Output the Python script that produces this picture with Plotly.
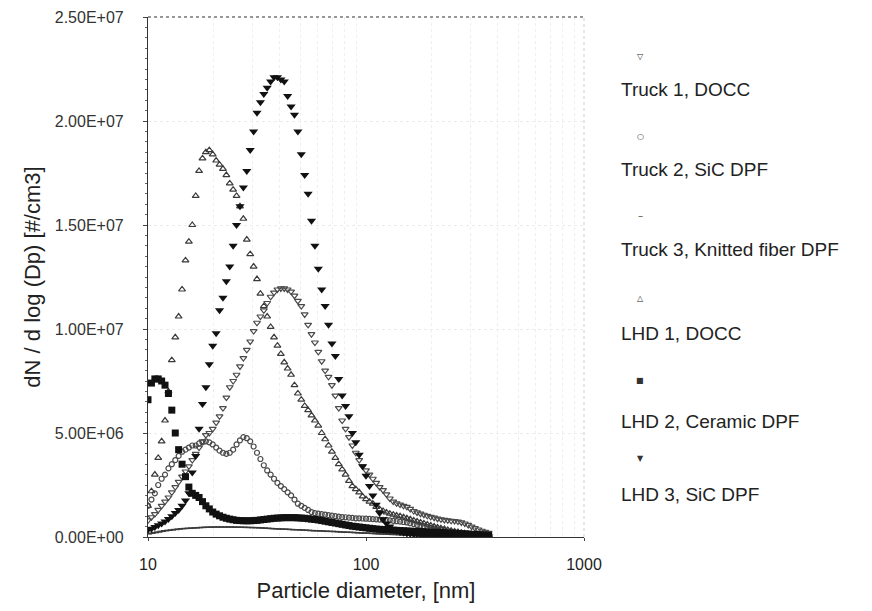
import plotly.graph_objects as go

# Particle diameter channels [nm]
diameters = [10.00, 10.37, 10.75, 11.14, 11.55, 11.97, 12.41, 12.86, 13.34, 13.82,
             14.33, 14.86, 15.40, 15.96, 16.55, 17.15, 17.78, 18.43, 19.11, 19.81,
             20.54, 21.29, 22.07, 22.88, 23.71, 24.58, 25.48, 26.42, 27.38, 28.39,
             29.43, 30.51, 31.62, 32.78, 33.98, 35.22, 36.52, 37.85, 39.24, 40.68,
             42.17, 43.71, 45.32, 46.98, 48.70, 50.48, 52.33, 54.25, 56.23, 58.29,
             60.43, 62.64, 64.94, 67.32, 69.78, 72.34, 74.99, 77.74, 80.58, 83.54,
             86.60, 89.77, 93.06, 96.47, 100.0, 103.7, 107.5, 111.4, 115.5, 119.7,
             124.1, 128.6, 133.4, 138.2, 143.3, 148.6, 154.0, 159.6, 165.5, 171.5,
             177.8, 184.3, 191.1, 198.1, 205.4, 212.9, 220.7, 228.8, 237.1, 245.8,
             254.8, 264.2, 273.8, 283.9, 294.3, 305.1, 316.2, 327.8, 339.8, 352.2, 365.2]

# dN/dlogDp values in units of 1e6 #/cm3
truck1_docc = [0.80, 0.95, 1.10, 1.30, 1.50, 1.70, 1.90, 2.15, 2.40, 2.65,
               2.90, 3.15, 3.40, 3.70, 4.00, 4.30, 4.60, 4.90, 5.00, 5.20,
               5.50, 5.80, 6.20, 6.70, 7.20, 7.50, 7.80, 8.20, 8.60, 9.00,
               9.40, 9.90, 10.3, 10.6, 10.9, 11.25, 11.55, 11.75, 11.9, 11.95,
               11.95, 11.9, 11.8, 11.6, 11.35, 11.1, 10.7, 10.2, 9.75, 9.35,
               8.90, 8.45, 8.00, 7.70, 7.30, 6.80, 6.20, 5.60, 5.20, 4.80,
               4.40, 4.05, 3.70, 3.40, 3.20, 3.00, 2.80, 2.60, 2.40, 2.25,
               2.05, 1.85, 1.70, 1.62, 1.56, 1.50, 1.45, 1.35, 1.25, 1.18,
               1.12, 1.07, 1.02, 0.97, 0.93, 0.88, 0.85, 0.82, 0.80, 0.78,
               0.77, 0.74, 0.70, 0.65, 0.58, 0.50, 0.43, 0.36, 0.30, 0.25, 0.20]

truck2_sic_dpf = [1.50, 1.80, 2.10, 2.50, 2.80, 3.00, 3.30, 3.50, 3.70, 3.90,
                  4.10, 4.20, 4.30, 4.40, 4.40, 4.50, 4.55, 4.60, 4.55, 4.45,
                  4.30, 4.15, 4.05, 4.00, 4.05, 4.20, 4.45, 4.65, 4.80, 4.75,
                  4.60, 4.35, 4.05, 3.75, 3.45, 3.20, 3.00, 2.80, 2.60, 2.45,
                  2.30, 2.15, 2.00, 1.80, 1.60, 1.50, 1.40, 1.30, 1.20, 1.15,
                  1.12, 1.10, 1.08, 1.05, 1.03, 1.00, 0.98, 0.96, 0.95, 0.93,
                  0.92, 0.90, 0.90, 0.89, 0.88, 0.87, 0.86, 0.85, 0.84, 0.83,
                  0.82, 0.80, 0.78, 0.76, 0.74, 0.72, 0.70, 0.66, 0.62, 0.58,
                  0.55, 0.52, 0.48, 0.44, 0.40, 0.37, 0.34, 0.30, 0.27, 0.24,
                  0.21, 0.18, 0.15, 0.13, 0.11, 0.09, 0.07, 0.05, 0.04, 0.03, 0.02]

truck3_knitted = [0.15, 0.18, 0.21, 0.24, 0.27, 0.30, 0.32, 0.34, 0.36, 0.38,
                  0.40, 0.41, 0.42, 0.43, 0.44, 0.45, 0.46, 0.47, 0.47, 0.48,
                  0.48, 0.48, 0.48, 0.48, 0.48, 0.48, 0.47, 0.47, 0.47, 0.46,
                  0.46, 0.45, 0.45, 0.44, 0.43, 0.42, 0.41, 0.40, 0.39, 0.38,
                  0.38, 0.37, 0.36, 0.35, 0.35, 0.34, 0.33, 0.32, 0.31, 0.30,
                  0.30, 0.29, 0.28, 0.27, 0.27, 0.26, 0.25, 0.24, 0.23, 0.23,
                  0.22, 0.21, 0.20, 0.19, 0.19, 0.18, 0.17, 0.16, 0.15, 0.15,
                  0.14, 0.13, 0.12, 0.12, 0.11, 0.10, 0.09, 0.09, 0.08, 0.07,
                  0.07, 0.06, 0.06, 0.05, 0.05, 0.04, 0.04, 0.04, 0.03, 0.03,
                  0.03, 0.02, 0.02, 0.02, 0.02, 0.02, 0.02, 0.02, 0.02, 0.02, 0.02]

lhd1_docc = [1.50, 2.20, 3.00, 3.80, 4.60, 5.60, 7.00, 8.50, 9.60, 10.6,
             11.9, 13.3, 14.2, 15.0, 16.4, 17.6, 18.2, 18.5, 18.6, 18.4,
             18.1, 17.9, 17.7, 17.4, 17.0, 16.7, 16.4, 15.9, 15.3, 14.3,
             13.6, 13.0, 12.4, 11.7, 11.1, 10.6, 10.1, 9.60, 9.20, 8.80,
             8.40, 8.10, 7.80, 7.30, 6.90, 6.60, 6.30, 6.10, 5.85, 5.60,
             5.35, 5.00, 4.70, 4.40, 4.10, 3.80, 3.50, 3.25, 3.00, 2.70,
             2.45, 2.30, 2.15, 1.95, 1.82, 1.70, 1.60, 1.45, 1.34, 1.25,
             1.18, 1.12, 1.07, 1.03, 1.00, 0.95, 0.90, 0.85, 0.80, 0.75,
             0.70, 0.65, 0.60, 0.55, 0.50, 0.46, 0.42, 0.38, 0.34, 0.30,
             0.27, 0.24, 0.21, 0.18, 0.15, 0.13, 0.11, 0.09, 0.07, 0.05, 0.04]

lhd2_ceramic = [6.60, 7.40, 7.60, 7.60, 7.50, 7.30, 6.90, 6.10, 5.00, 4.20,
                3.50, 2.90, 2.40, 2.10, 2.00, 1.90, 1.70, 1.50, 1.35, 1.20,
                1.10, 1.02, 0.95, 0.90, 0.86, 0.83, 0.80, 0.79, 0.78, 0.78,
                0.78, 0.79, 0.80, 0.82, 0.84, 0.86, 0.88, 0.90, 0.91, 0.92,
                0.93, 0.93, 0.93, 0.93, 0.92, 0.91, 0.90, 0.88, 0.86, 0.84,
                0.82, 0.79, 0.76, 0.73, 0.70, 0.67, 0.64, 0.61, 0.58, 0.55,
                0.52, 0.50, 0.48, 0.46, 0.44, 0.42, 0.40, 0.38, 0.37, 0.36,
                0.35, 0.34, 0.33, 0.32, 0.31, 0.30, 0.29, 0.28, 0.27, 0.26,
                0.26, 0.25, 0.24, 0.23, 0.22, 0.22, 0.21, 0.20, 0.19, 0.18,
                0.18, 0.17, 0.16, 0.15, 0.14, 0.13, 0.12, 0.11, 0.10, 0.09, 0.08]

lhd3_sic_dpf = [0.35, 0.40, 0.48, 0.56, 0.65, 0.75, 0.87, 1.00, 1.15, 1.30,
                1.50, 1.75, 2.10, 3.10, 3.90, 5.20, 6.40, 7.20, 8.30, 9.20,
                9.80, 10.9, 11.5, 12.3, 13.0, 14.0, 15.0, 15.9, 16.8, 17.6,
                18.6, 19.5, 20.4, 20.9, 21.3, 21.6, 21.9, 22.1, 22.1, 22.0,
                21.9, 21.2, 20.7, 20.3, 19.5, 18.4, 17.4, 16.5, 15.2, 14.0,
                12.9, 11.9, 11.1, 10.2, 9.30, 8.70, 7.60, 6.80, 6.30, 5.80,
                5.00, 4.55, 3.95, 3.40, 2.95, 2.45, 2.00, 1.55, 1.15, 0.85,
                0.65, 0.50, 0.38, 0.30, 0.24, 0.20, 0.17, 0.15, 0.13, 0.12,
                0.11, 0.10, 0.10, 0.09, 0.09, 0.08, 0.08, 0.07, 0.07, 0.06,
                0.06, 0.05, 0.05, 0.05, 0.04, 0.04, 0.03, 0.03, 0.03, 0.02, 0.02]

series_names = ["Truck 1, DOCC", "Truck 2, SiC DPF", "Truck 3, Knitted fiber DPF",
                "LHD 1, DOCC", "LHD 2, Ceramic DPF", "LHD 3, SiC DPF"]
series_values = [truck1_docc, truck2_sic_dpf, truck3_knitted,
                 lhd1_docc, lhd2_ceramic, lhd3_sic_dpf]

y_tick_values = [0, 5e6, 1e7, 1.5e7, 2e7, 2.5e7]
y_tick_labels = ["0.00E+00", "5.00E+06", "1.00E+07", "1.50E+07", "2.00E+07", "2.50E+07"]
x_tick_values = [10, 100, 1000]
x_tick_labels = ["10", "100", "1000"]

# marker styles (symbol, size, color, line width)
styles = [
    ("triangle-down-open", 6, "#4a4a4a", 1.2),
    ("circle-open", 5, "#4a4a4a", 1.2),
    ("line-ew-open", 6, "#3a3a3a", 1.4),
    ("triangle-up-open", 6, "#3a3a3a", 1.2),
    ("square", 7, "#111111", 0),
    ("triangle-down", 8, "#111111", 0),
]
legend_glyphs = ["▽", "○", "‒", "△", "■", "▼"]

FONT = "Liberation Sans, Arial, sans-serif"
fig = go.Figure()
for name, vals, (sym, size, col, lw) in zip(series_names, series_values, styles):
    fig.add_trace(go.Scatter(
        x=diameters, y=[v * 1e6 for v in vals], name=name, mode="markers",
        marker=dict(symbol=sym, size=size, color=col, line=dict(width=lw, color=col)),
        showlegend=False,
    ))

# page has an 8px body margin: figure drawn from (8, 8)
OFF = 8
# plot area in page pixels
L, R, T, B = 148, 584, 17, 537
W, H = 872 - 2 * OFF, 611 - 2 * OFF

def px_x(px):
    return (px - L) / (R - L)

def px_y(py):
    return (B - py) / (B - T)

# Legend drawn as marker glyph above label (as in the reference)
label_y = [90, 170, 250, 333, 421, 494]
glyph_y = [57, 137, 216, 298, 380, 458]
for name, glyph, ly, gy in zip(series_names, legend_glyphs, label_y, glyph_y):
    fig.add_annotation(x=px_x(619), y=px_y(ly), xref="paper", yref="paper",
                       text=name, showarrow=False, xanchor="left", yanchor="middle",
                       font=dict(family=FONT, size=19, color="#222"))
    fig.add_annotation(x=px_x(640), y=px_y(gy), xref="paper", yref="paper",
                       text=glyph, showarrow=False, xanchor="center", yanchor="middle",
                       font=dict(family="DejaVu Sans", size=8, color="#333"))

# top/right frame (light dotted like the scan)
fig.add_shape(type="line", xref="paper", yref="paper", x0=0, x1=1, y0=1, y1=1,
              line=dict(color="#777", width=1.5, dash="dot"))
fig.add_shape(type="line", xref="paper", yref="paper", x0=1, x1=1, y0=0, y1=1,
              line=dict(color="#cfcfcf", width=1, dash="dot"))

fig.update_layout(
    width=W, height=H,
    margin=dict(l=L - OFF, r=W - (R - OFF), t=T - OFF, b=H - (B - OFF), autoexpand=False),
    paper_bgcolor="white", plot_bgcolor="white",
    font=dict(family=FONT, color="#222"),
)
fig.update_xaxes(
    type="log", range=[1, 3],
    tickvals=x_tick_values, ticktext=x_tick_labels,
    tickfont=dict(size=16, family=FONT, color="#222"),
    ticks="outside", ticklen=3, tickcolor="#444",
    ticklabelstandoff=10,
    showline=True, linecolor="#333", linewidth=1.2,
    showgrid=False, zeroline=False,
    minor=dict(showgrid=True, gridcolor="#eeeeee", griddash="dot",
               tickvals=[20, 30, 40, 50, 60, 70, 80, 90, 200, 300, 400, 500, 600, 700, 800, 900]),
    title=dict(text="Particle diameter, [nm]", font=dict(size=22, family=FONT, color="#222"),
               standoff=10),
)
fig.update_yaxes(
    range=[0, 2.5e7],
    tickvals=y_tick_values, ticktext=y_tick_labels,
    tickfont=dict(size=16, family=FONT, color="#333"),
    ticks="outside", ticklen=4, tickcolor="#444",
    ticklabelstandoff=16,
    showline=True, linecolor="#333", linewidth=1.2,
    showgrid=True, gridcolor="#ececec", griddash="dot",
    zeroline=False,
    minor=dict(ticks="outside", ticklen=2, tickcolor="#666", dtick=5e5, showgrid=False),
    title=dict(text="dN / d log (Dp) [#/cm3]", font=dict(size=22, family=FONT, color="#222"),
               standoff=8),
)

fig.write_html("out.html")
